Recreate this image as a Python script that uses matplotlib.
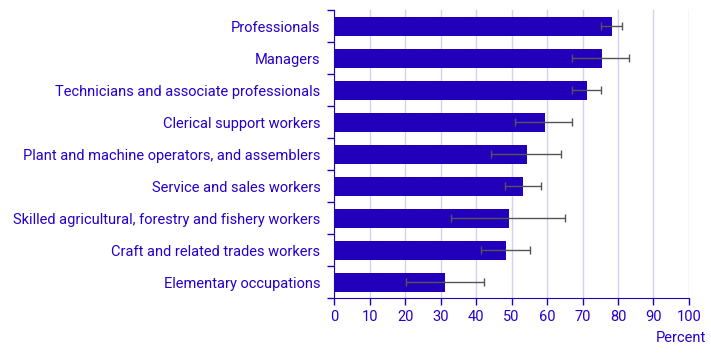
import numpy as np
from matplotlib import pyplot as plt

categories = ["Professionals", "Managers", "Technicians and associate professionals",
              "Clerical support workers", "Plant and machine operators, and assemblers",
              "Service and sales workers", "Skilled agricultural, forestry and fishery workers",
              "Craft and related trades workers", "Elementary occupations"]
values = [78.2, 75.4, 71.2, 59.4, 54.3, 53.2, 49.3, 48.4, 31.2]
err_low = [75.3, 67.1, 67.1, 51.0, 44.1, 48.2, 33.0, 41.3, 20.2]
err_high = [81.2, 83.2, 75.3, 67.1, 64.0, 58.2, 65.2, 55.1, 42.1]

blue = "#2200BB"
text_blue = "#2600CC"

plt.rcParams['font.family'] = ['Roboto', 'DejaVu Sans']

fig = plt.figure(figsize=(7.11, 3.53), dpi=100)
ax = fig.add_axes([0.47, 0.155, 0.499, 0.816])

y = np.arange(len(categories))
vals = np.array(values)
lo = vals - np.array(err_low)
hi = np.array(err_high) - vals
ax.barh(y, vals, height=0.58, color=blue, zorder=2)
ax.errorbar(vals, y, xerr=[lo, hi], fmt='none', ecolor="#555555", elinewidth=1,
            capsize=3, capthick=1, zorder=3)

ax.set_ylim(8.5, -0.5)
ax.set_xlim(0, 100)
ax.set_xticks(range(0, 101, 10))
ax.set_yticks(y)
ax.set_yticklabels(categories)
ax.set_yticks(np.arange(-0.5, 9, 1), minor=True)
ax.tick_params(axis='y', which='major', length=0, pad=10, labelsize=10.5, labelcolor=text_blue)
ax.tick_params(axis='y', which='minor', length=5, color=blue, width=1)
ax.tick_params(axis='x', length=5, color=blue, width=1, labelsize=10.5, labelcolor=text_blue)

ax.grid(axis='x', color="#D4D0F2", linewidth=1, zorder=0)
ax.set_axisbelow(True)
for s in ['top', 'right']:
    ax.spines[s].set_visible(False)
ax.spines['left'].set_color(blue)
ax.spines['bottom'].set_color(blue)

fig.text(0.993, 0.042, "Percent", ha='right', va='center', fontsize=10.5, color=text_blue)

fig.savefig("out.png", dpi=100)
